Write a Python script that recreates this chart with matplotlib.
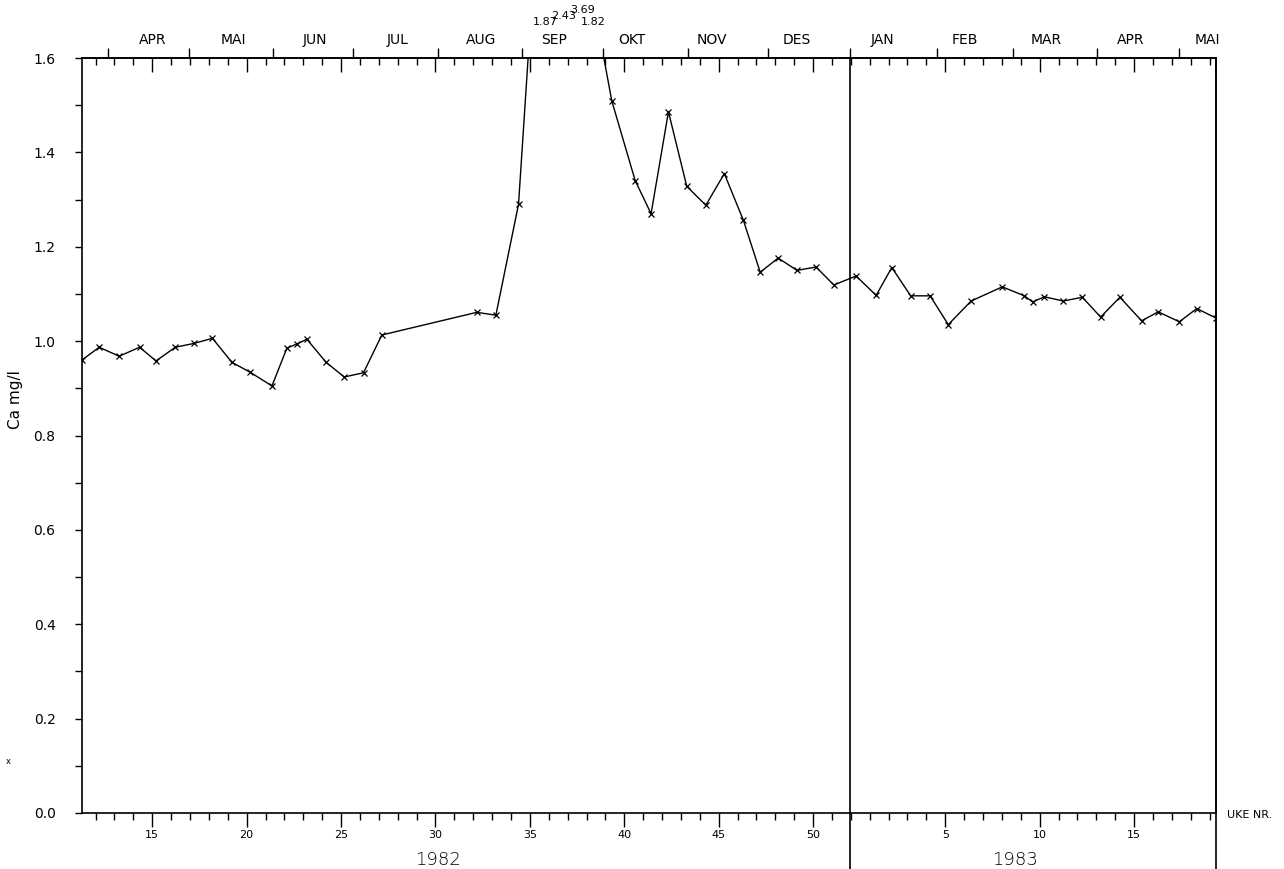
import numpy as np
import matplotlib.pyplot as plt
from matplotlib.ticker import FixedLocator, MultipleLocator, NullFormatter

# ukenr. (1982 og 1983) og Ca-verdier lest av plottet
uke_1982 = [11.28, 12.19, 13.25, 14.33, 15.2, 16.22, 17.19, 18.19, 19.22, 20.19,
            21.34, 22.13, 22.66, 23.19, 24.21, 25.17, 26.19, 27.16, 32.19, 33.2,
            34.4, 35.35, 36.35, 37.35, 37.9, 39.34, 40.58, 41.42, 42.34, 43.31,
            44.32, 45.3, 46.31, 47.2, 48.15, 49.15, 50.16, 51.1, 52.28]
ca_1982 = [0.96, 0.987, 0.968, 0.987, 0.958, 0.987, 0.995, 1.006, 0.955, 0.934,
           0.905, 0.985, 0.994, 1.004, 0.955, 0.924, 0.933, 1.013, 1.061, 1.055,
           1.29, 1.87, 2.43, 3.69, 1.82, 1.509, 1.34, 1.27, 1.486, 1.328,
           1.288, 1.355, 1.256, 1.146, 1.176, 1.15, 1.157, 1.119, 1.138]
uke_1983 = [1.34, 2.17, 3.17, 4.2, 5.16, 6.37, 8.02, 9.19, 9.63, 10.25,
            11.25, 12.26, 13.23, 14.25, 15.4, 16.28, 17.4, 18.32, 19.34]
ca_1983 = [1.097, 1.156, 1.096, 1.096, 1.035, 1.085, 1.115, 1.096, 1.083, 1.094,
           1.085, 1.093, 1.051, 1.093, 1.043, 1.062, 1.041, 1.069, 1.049]

# verdier utenfor skala, skrevet over rammen
over_labels = ['1.87', '2.43', '3.69', '1.82']
over_weeks = [35.35, 36.35, 37.35, 37.9]

maaneder = ['APR', 'MAI', 'JUN', 'JUL', 'AUG', 'SEP', 'OKT', 'NOV', 'DES',
            'JAN', 'FEB', 'MAR', 'APR', 'MAI']
maaned_pos = [15.0, 19.3, 23.6, 28.0, 32.4, 36.3, 40.4, 44.65, 49.15,
              53.7, 58.05, 62.35, 66.8, 70.9]
maaned_grenser = [12.67, 16.96, 21.4, 25.64, 30.14, 34.59, 38.88, 43.38, 47.62,
                  51.95, 56.57, 60.59, 65.04, 69.38]

YEAR_OFFSET = 52
x_end = 71.34
aarsskifte = 51.95

x = np.array(uke_1982 + [w + YEAR_OFFSET for w in uke_1983])
y = np.array(ca_1982 + ca_1983)

plt.rcParams['font.family'] = 'DejaVu Sans'
fig = plt.figure(figsize=(12.84, 8.69), dpi=100)
ax = fig.add_axes([82 / 1284, 1 - 813 / 869, (1216 - 82) / 1284, (813 - 58) / 869])

ax.plot(x, y, color='black', lw=1.0, marker='x', ms=4.5, mew=0.9, clip_on=True)

ax.set_xlim(11.28, x_end)
ax.set_ylim(0, 1.6)
for s in ax.spines.values():
    s.set_linewidth(1.2)

# y-akse
ax.yaxis.set_major_locator(MultipleLocator(0.2))
ax.yaxis.set_minor_locator(MultipleLocator(0.1))
ax.yaxis.set_major_formatter(lambda v, p: f'{v:.1f}')
ax.tick_params(axis='y', which='both', direction='out', length=5, width=1,
               labelsize=10, pad=14, right=False)
ax.set_ylabel('Ca mg/l', fontsize=11)
ax.yaxis.set_label_coords(-0.052, 0.547)

# bunnakse: ukenummer
maj = list(range(15, 51, 5)) + [57, 62, 67]
ax.xaxis.set_major_locator(FixedLocator(maj))
ax.xaxis.set_minor_locator(MultipleLocator(1))
ax.set_xticklabels([str(m if m <= 52 else m - YEAR_OFFSET) for m in maj])
ax.tick_params(axis='x', which='major', direction='out', length=10, width=1,
               labelsize=8, pad=2, top=False)
ax.tick_params(axis='x', which='minor', direction='out', length=5, width=1, top=False)

# toppakse: ukestreker innover
top = ax.secondary_xaxis('top')
top.xaxis.set_major_locator(FixedLocator(maj))
top.xaxis.set_minor_locator(MultipleLocator(1))
top.xaxis.set_major_formatter(NullFormatter())
top.tick_params(which='major', direction='in', length=10, width=1)
top.tick_params(which='minor', direction='in', length=5, width=1)
top.spines['top'].set_linewidth(1.2)

# toppakse: maanedsgrenser utover
top2 = ax.secondary_xaxis('top')
top2.xaxis.set_major_locator(FixedLocator(maaned_grenser))
top2.xaxis.set_major_formatter(NullFormatter())
top2.tick_params(which='major', direction='out', length=7, width=1)
top2.spines['top'].set_visible(False)

trans = ax.get_xaxis_transform()
for pos, name in zip(maaned_pos, maaneder):
    ax.text(pos, 1.014, name, transform=trans, ha='center', va='bottom', fontsize=10)

# aarsskifte og hoyre kant trukket ned under aksen
ax.axvline(aarsskifte, ymin=-0.075, ymax=1, color='black', lw=1.2, clip_on=False)
ax.axvline(x_end, ymin=-0.075, ymax=1, color='black', lw=1.2, clip_on=False)

# verdier over skala
levels = [1.041, 1.049, 1.057, 1.041]
for w, lab, lv in zip(over_weeks, over_labels, levels):
    ax.text(w - 0.2, lv, lab, transform=trans, ha='left', va='bottom', fontsize=8)

ax.text(30.14, -0.062, '1982', transform=trans, ha='center', va='center',
        fontsize=13, fontweight='light')
ax.text(60.7, -0.062, '1983', transform=trans, ha='center', va='center',
        fontsize=13, fontweight='light')
ax.text(71.9, -0.003, 'UKE NR.', transform=trans, ha='left', va='center', fontsize=8)

fig.text(8 / 1284, 1 - 762 / 869, 'x', fontsize=6, ha='center', va='center')

fig.savefig('out.png', dpi=100)
